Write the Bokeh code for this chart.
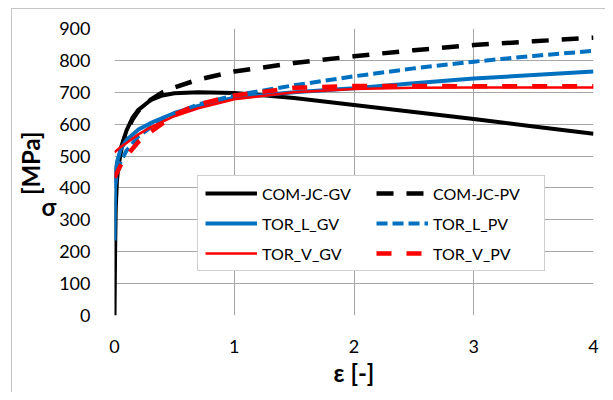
from bokeh.plotting import figure
from bokeh.models import Range1d, Legend, LegendItem, FixedTicker, LinearAxis
from bokeh.embed import file_html
from bokeh.resources import INLINE

# ---- data ----
x_jc_gv = [0, 0.005, 0.01, 0.02, 0.03, 0.05, 0.075, 0.1, 0.15, 0.2, 0.3, 0.4, 0.5, 0.7, 1.0, 1.5, 2.0, 2.5, 3.0, 3.5, 4.0]
y_jc_gv = [0, 200, 330, 420, 460, 505, 550, 580, 620, 645, 675, 690, 697, 700, 698, 682, 660, 638, 616, 593, 570]

x_jc_pv = [0, 0.02, 0.05, 0.1, 0.15, 0.2, 0.3, 0.4, 0.5, 0.7, 1.0, 1.5, 2.0, 2.5, 3.0, 3.5, 4.0]
y_jc_pv = [420, 470, 520, 575, 615, 642, 676, 700, 715, 740, 765, 792, 813, 832, 848, 860, 871]

x_l_gv = [0, 0.005, 0.01, 0.02, 0.05, 0.1, 0.2, 0.3, 0.5, 0.7, 1.0, 1.5, 2.0, 2.5, 3.0, 3.5, 4.0]
y_l_gv = [235, 400, 450, 480, 520, 550, 583, 603, 635, 657, 683, 700, 713, 728, 743, 754, 765]

x_l_pv = [0, 0.02, 0.05, 0.1, 0.2, 0.3, 0.5, 0.7, 1.0, 1.5, 2.0, 2.5, 3.0, 3.5, 4.0]
y_l_pv = [400, 440, 480, 517, 562, 590, 632, 662, 690, 722, 750, 775, 796, 814, 830]

x_v_gv = [0, 0.05, 0.1, 0.2, 0.3, 0.5, 0.7, 1.0, 1.5, 2.0, 2.5, 3.0, 3.5, 4.0]
y_v_gv = [512, 528, 541, 568, 590, 625, 650, 678, 700, 710, 714, 715, 715, 715]

x_v_pv = [0, 0.05, 0.1, 0.2, 0.3, 0.5, 0.7, 1.0, 1.5, 2.0, 2.5, 3.0, 3.5, 4.0]
y_v_pv = [432, 470, 500, 545, 575, 630, 662, 690, 714, 720, 720, 719, 719, 719]

x_ticks = [0, 1, 2, 3, 4]
y_ticks = [0, 100, 200, 300, 400, 500, 600, 700, 800, 900]

FONT = "Lato"
GRID = "#a6a6a6"
EDGE = "#c4c4c4"

p = figure(width=605, height=392, output_backend="svg", toolbar_location=None,
           x_range=Range1d(0, 4), y_range=Range1d(0, 900),
           min_border_left=114, min_border_right=12, min_border_top=28, min_border_bottom=77)
p.outline_line_color = None
p.background_fill_color = "white"
p.border_fill_color = None
p.styles = {
    "background-color": "white",
    "background-image": f"linear-gradient({EDGE},{EDGE}), linear-gradient({EDGE},{EDGE})",
    "background-position": "11px 8px, 11px 8px",
    "background-size": "1px 100%, 100% 1px",
    "background-repeat": "no-repeat, no-repeat",
}

for ax in (p.xaxis[0], p.yaxis[0]):
    ax.axis_line_color = None
    ax.major_tick_line_color = None
    ax.minor_tick_line_color = None
    ax.major_tick_in = 0
    ax.major_tick_out = 0
    ax.major_label_text_font = FONT
    ax.major_label_text_font_size = "18px"
    ax.major_label_text_color = "black"
    ax.major_label_standoff = 24
    ax.axis_label_text_font = FONT
    ax.axis_label_text_font_size = "24px"
    ax.axis_label_text_font_style = "bold"
    ax.axis_label_text_color = "black"
p.xaxis.ticker = FixedTicker(ticks=x_ticks)
p.yaxis.ticker = FixedTicker(ticks=y_ticks)
p.xaxis.axis_label = "ε [-]"
p.xaxis.axis_label_standoff = 2
p.yaxis.axis_label = "\n\nσ"
p.yaxis.axis_label_orientation = "horizontal"
p.yaxis.axis_label_standoff = 0

unit_axis = LinearAxis(ticker=FixedTicker(ticks=[]), axis_label="\u00a0\u00a0\u00a0[MPa]")
unit_axis.axis_line_color = None
unit_axis.major_tick_line_color = None
unit_axis.minor_tick_line_color = None
unit_axis.major_tick_in = 0
unit_axis.major_tick_out = 0
unit_axis.major_label_standoff = 0
unit_axis.axis_label_standoff = -6
unit_axis.axis_label_text_font = FONT
unit_axis.axis_label_text_font_size = "24px"
unit_axis.axis_label_text_font_style = "bold"
unit_axis.axis_label_text_color = "black"
p.add_layout(unit_axis, "left")

p.xgrid.grid_line_color = GRID
p.ygrid.grid_line_color = GRID
p.xgrid.ticker = FixedTicker(ticks=x_ticks)
p.ygrid.ticker = FixedTicker(ticks=y_ticks)

r1 = p.line(x_jc_gv, y_jc_gv, line_color="black", line_width=4)
r2 = p.line(x_jc_pv, y_jc_pv, line_color="black", line_width=4.5, line_dash="17 13")
r3 = p.line(x_l_gv, y_l_gv, line_color="#0070C0", line_width=4)
r4 = p.line(x_l_pv, y_l_pv, line_color="#0070C0", line_width=4, line_dash="11 5")
r5 = p.line(x_v_gv, y_v_gv, line_color="#FF0000", line_width=2.5)
r6 = p.line(x_v_pv, y_v_pv, line_color="#FF0000", line_width=4.5, line_dash="15 15")

legend = Legend(items=[
    LegendItem(label="COM-JC-GV", renderers=[r1]),
    LegendItem(label="TOR_L_GV", renderers=[r3]),
    LegendItem(label="TOR_V_GV", renderers=[r5]),
    LegendItem(label="COM-JC-PV", renderers=[r2]),
    LegendItem(label="TOR_L_PV", renderers=[r4]),
    LegendItem(label="TOR_V_PV", renderers=[r6]),
], ncols=2, location=(83, 44))
legend.label_text_font = FONT
legend.label_text_font_size = "16px"
legend.label_text_color = "black"
legend.glyph_width = 52
legend.glyph_height = 20
legend.label_height = 20
legend.label_width = 104
legend.label_standoff = 5
legend.spacing = 10
legend.padding = 7
legend.margin = 0
legend.border_line_color = "#a0a0a0"
legend.background_fill_alpha = 1
p.add_layout(legend, "center")

open("out.html", "w").write(file_html(p, INLINE))
